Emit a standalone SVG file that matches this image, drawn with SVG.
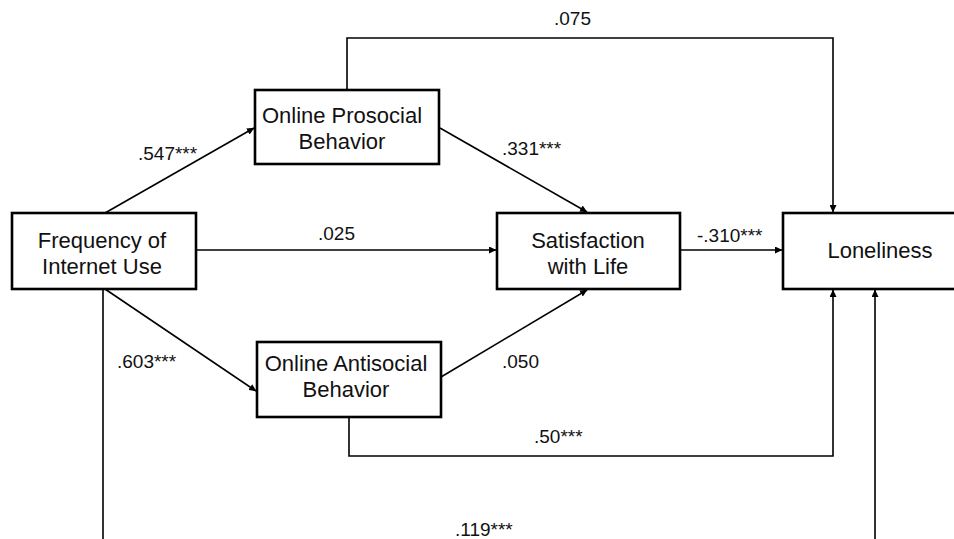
<svg xmlns="http://www.w3.org/2000/svg" width="954" height="539" viewBox="0 0 954 539">
<style>
.box{fill:#fff;stroke:#000;stroke-width:2.6}
.node{font-family:"Liberation Sans",Arial,sans-serif;font-size:22px;fill:#111;text-anchor:middle}
.lbl{font-family:"Liberation Sans",Arial,sans-serif;font-size:19px;fill:#111}
.edge{fill:none;stroke:#000;stroke-width:1.6}
</style>
<defs>
<marker id="ah" markerWidth="8" markerHeight="7" refX="7" refY="3.5" orient="auto" markerUnits="userSpaceOnUse">
<path d="M0,0 L7.5,3.5 L0,7 z" fill="#000"/>
</marker>
</defs>
<rect width="954" height="539" fill="#fff"/>
<g id="connectors">
<line class="edge" x1="105" y1="213" x2="254" y2="128" marker-end="url(#ah)"/>
<line class="edge" x1="105" y1="289" x2="256" y2="391" marker-end="url(#ah)"/>
<line class="edge" x1="196" y1="250" x2="496" y2="250" marker-end="url(#ah)"/>
<line class="edge" x1="440" y1="128" x2="587" y2="212" marker-end="url(#ah)"/>
<line class="edge" x1="441" y1="377" x2="587" y2="290" marker-end="url(#ah)"/>
<line class="edge" x1="680" y1="250" x2="782" y2="250" marker-end="url(#ah)"/>
<polyline class="edge" points="347,90 347,38 833,38 833,212" marker-end="url(#ah)"/>
<polyline class="edge" points="349,417 349,456 833,456 833,290" marker-end="url(#ah)"/>
<polyline class="edge" points="103,289 103,545 875,545 875,290" marker-end="url(#ah)"/>
<text class="lbl" x="554" y="25">.075</text>
<text class="lbl" x="138" y="160">.547***</text>
<text class="lbl" x="318" y="240">.025</text>
<text class="lbl" x="502" y="155">.331***</text>
<text class="lbl" x="697" y="242">-.310***</text>
<text class="lbl" x="117" y="368">.603***</text>
<text class="lbl" x="502" y="368">.050</text>
<text class="lbl" x="534" y="443">.50***</text>
<text class="lbl" x="455" y="536">.119***</text>
</g>
<g id="frequency">
<rect class="box" x="12" y="213" width="184" height="76"/>
<text class="node" x="102" y="248">Frequency of</text>
<text class="node" x="102" y="274">Internet Use</text>
</g>
<g id="prosocial">
<rect class="box" x="255" y="90" width="184" height="74"/>
<text class="node" x="342" y="123">Online Prosocial</text>
<text class="node" x="342" y="149">Behavior</text>
</g>
<g id="antisocial">
<rect class="box" x="257" y="342" width="184" height="75"/>
<text class="node" x="346" y="371">Online Antisocial</text>
<text class="node" x="346" y="397">Behavior</text>
</g>
<g id="satisfaction">
<rect class="box" x="497" y="213" width="183" height="76"/>
<text class="node" x="588" y="248">Satisfaction</text>
<text class="node" x="588" y="274">with Life</text>
</g>
<g id="loneliness">
<rect class="box" x="783" y="213" width="200" height="76"/>
<text class="node" x="880" y="258">Loneliness</text>
</g>
</svg>
